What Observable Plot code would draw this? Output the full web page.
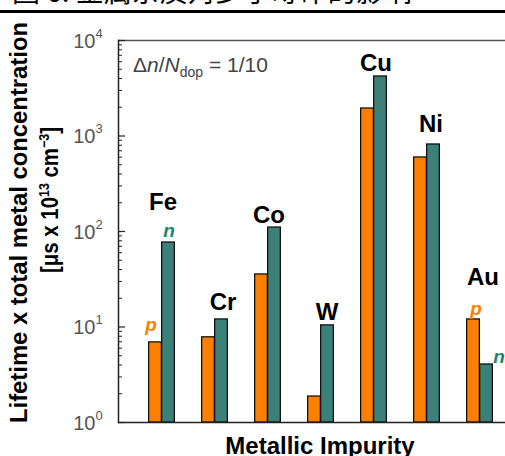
<!DOCTYPE html>
<html><head><meta charset="utf-8">
<script src="https://cdn.jsdelivr.net/npm/d3@7"></script>
<script src="https://cdn.jsdelivr.net/npm/@observablehq/plot@0.6"></script>
<style>html,body{margin:0;padding:0;background:#fff;overflow:hidden;width:505px;height:456px}</style>
</head><body><div id="chart"></div>
<script>
// ---- data ----
const metals = ["Fe", "Cr", "Co", "W", "Cu", "Ni", "Au"];
const pValues = [6.9, 7.8, 35.5, 1.87, 1940, 596, 12.0];   // p-type (orange)
const nValues = [76.7, 12.0, 110, 10.4, 4200, 815, 4.05];  // n-type (teal)
const labelValues = [166, 14.9, 124, 11.7, 4850, 1089, 27.2]; // baseline of element labels
const yTicks = [1, 10, 100, 1000, 10000];
const yTickExp = ["0", "1", "2", "3", "4"];
const typeLabels = [
  {metal: "Fe", type: "p"}, {metal: "Fe", type: "n"},
  {metal: "Au", type: "p"}, {metal: "Au", type: "n"}
];

// ---- style ----
const W = 505, H = 456, ML = 118, MT = 40, MB = 34;
const ORANGE = "#ff8000", TEAL = "#3c807a", NTXT = "#178574";
const labelDx = [1, 8, 1, 6, 2, 4, 3];
const typeOffsets = {"Fe-p": [-11, -17], "Fe-n": [7, -12], "Au-p": [-4, -11], "Au-n": [19, -8]};

const rows = metals.flatMap((m, i) => [
  {metal: m, type: "p", value: pValues[i]},
  {metal: m, type: "n", value: nValues[i]}
]);
const minorTicks = [];
for (let e = 0; e < 4; e++) for (let k = 2; k <= 9; k++) minorTicks.push(k * Math.pow(10, e));

const font = "'Liberation Sans', Arial, sans-serif";

const chart = Plot.plot({
  width: W, height: H,
  marginLeft: ML, marginRight: 0, marginTop: MT, marginBottom: MB,
  x: {type: "band", domain: metals, range: [134.3, 507.6], padding: 0, axis: null},
  y: {type: "log", domain: [1, 10000], axis: null},
  style: {fontFamily: font, background: "white", overflow: "visible"},
  marks: [
    Plot.barY(rows.filter(d => d.type === "p"), {x: "metal", y1: 1, y2: "value", fill: ORANGE, stroke: "#111", strokeWidth: 1.3, insetLeft: 13.65, insetRight: 26.65}),
    Plot.barY(rows.filter(d => d.type === "n"), {x: "metal", y1: 1, y2: "value", fill: TEAL, stroke: "#111", strokeWidth: 1.3, insetLeft: 26.65, insetRight: 13.65}),
    Plot.ruleY([1], {stroke: "#222", strokeWidth: 1.5}),
    Plot.ruleY([10000], {stroke: "#555", strokeWidth: 1.3}),
    Plot.frame({anchor: "left", stroke: "#222", strokeWidth: 1.5}),
    Plot.tickY(yTicks, {y: d => d, insetRight: W - ML - 7, stroke: "#222", strokeWidth: 1.2}),
    Plot.tickY(minorTicks, {y: d => d, insetRight: W - ML - 4, stroke: "#222", strokeWidth: 1}),
    Plot.text(yTicks, {y: d => d, text: () => "10", frameAnchor: "left", textAnchor: "end", dx: -23, dy: 1, fontSize: 20, fill: "#555"}),
    Plot.text(yTicks, {y: d => d, text: (d, i) => yTickExp[i], frameAnchor: "left", textAnchor: "start", dx: -23, dy: -7, fontSize: 13, fill: "#555"}),
    ...metals.map((m, i) => Plot.text([m], {x: d => d, y: () => labelValues[i], text: d => d, lineAnchor: "bottom", dx: labelDx[i], fontSize: 24, fontWeight: "bold", fill: "#000"})),
    ...typeLabels.map(t => {
      const r = rows.find(d => d.metal === t.metal && d.type === t.type);
      const [dx, dy] = typeOffsets[t.metal + "-" + t.type];
      return Plot.text([r], {x: "metal", y: "value", text: "type", dx, dy, fontSize: 19, fontWeight: "bold", fontStyle: "italic", fill: t.type === "p" ? ORANGE : NTXT});
    })
  ]
});

const svg = d3.select(chart);
// cut-off title above the plot
svg.append("text").attr("x", 12).attr("y", 2).attr("text-anchor", "start").attr("font-family", "'Noto Sans CJK SC', sans-serif")
  .attr("font-size", 28).attr("fill", "#000").text("图 6. 金属杂质对少子寿命的影响");
svg.append("line").attr("x1", 0).attr("x2", W).attr("y1", 11.5).attr("y2", 11.5).attr("stroke", "#000").attr("stroke-width", 3);

// annotation
const ann = svg.append("text").attr("x", 133).attr("y", 72).attr("text-anchor", "start").attr("font-family", font).attr("font-size", 21).attr("fill", "#444");
ann.append("tspan").text("Δ");
ann.append("tspan").attr("font-style", "italic").text("n");
ann.append("tspan").text("/");
ann.append("tspan").attr("font-style", "italic").text("N");
ann.append("tspan").attr("font-size", 14).attr("dy", 5).text("dop");
ann.append("tspan").attr("dy", -5).text(" = 1/10");

// y-axis title
const t1 = svg.append("text").attr("transform", "translate(27,222.5) rotate(-90)").attr("text-anchor", "middle")
  .attr("font-family", font).attr("font-size", 23).attr("font-weight", "bold").attr("fill", "#000")
  .attr("textLength", 401).attr("lengthAdjust", "spacingAndGlyphs").text("Lifetime x total metal concentration");
const t2 = svg.append("text").attr("transform", "translate(58,200) rotate(-90)").attr("text-anchor", "middle")
  .attr("font-family", font).attr("font-size", 23).attr("font-weight", "bold").attr("fill", "#000")
  .attr("textLength", 146).attr("lengthAdjust", "spacingAndGlyphs");
t2.append("tspan").text("[μs x 10");
t2.append("tspan").attr("font-size", 14).attr("dy", -9).text("13");
t2.append("tspan").attr("dy", 9).text(" cm");
t2.append("tspan").attr("font-size", 14).attr("dy", -9).text("−3");
t2.append("tspan").attr("dy", 9).text("]");

// x-axis title
svg.append("text").attr("x", 320).attr("y", 454).attr("text-anchor", "middle").attr("font-family", font)
  .attr("font-size", 24).attr("font-weight", "bold").attr("fill", "#000").text("Metallic Impurity");

document.getElementById("chart").appendChild(chart);
</script>
</body></html>
